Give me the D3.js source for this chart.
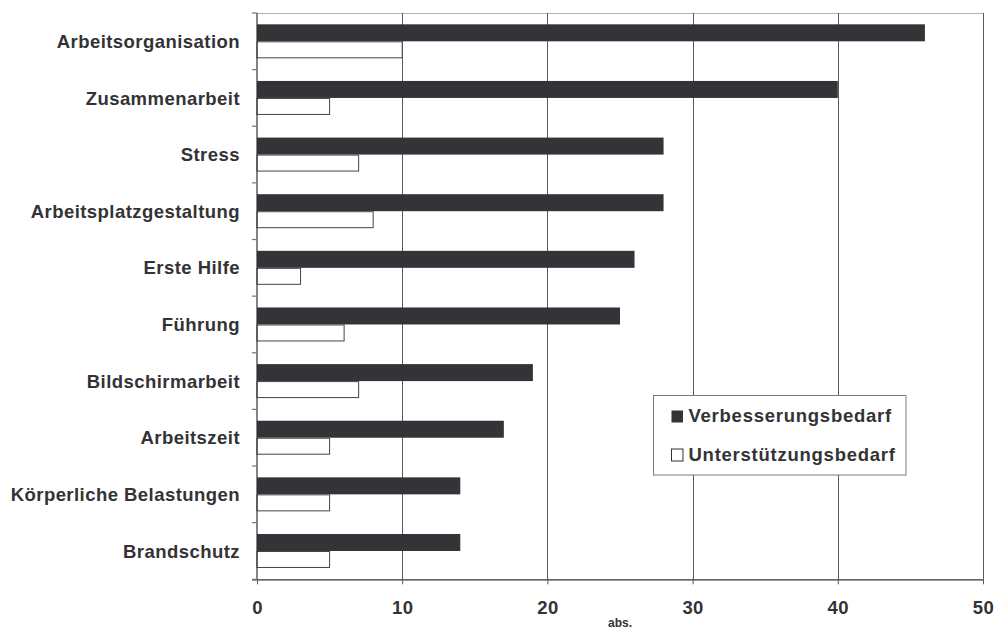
<!DOCTYPE html>
<html>
<head>
<meta charset="utf-8">
<script src="https://cdn.jsdelivr.net/npm/d3@7"></script>
<style>
  html, body { margin: 0; padding: 0; background: #fff; }
  svg { display: block; font-family: "Liberation Sans", Arial, sans-serif; font-weight: bold; }
</style>
</head>
<body>
<svg id="chart" width="994" height="630"></svg>
<script>
const categories = ["Arbeitsorganisation", "Zusammenarbeit", "Stress", "Arbeitsplatzgestaltung", "Erste Hilfe", "Führung", "Bildschirmarbeit", "Arbeitszeit", "Körperliche Belastungen", "Brandschutz"];
const seriesNames = ["Verbesserungsbedarf", "Unterstützungsbedarf"];
const verbesserung = [46, 40, 28, 28, 26, 25, 19, 17, 14, 14];
const unterstuetzung = [10, 5, 7, 8, 3, 6, 7, 5, 5, 5];
const xTicks = [0, 10, 20, 30, 40, 50];
const xAxisTitle = "abs.";

(function () {
const colors = ["#333338", "#ffffff"];
const textColor = "#333336";

const svg = d3.select("#chart");
const pLeft = 257, pRight = 983, pTop = 13, pBottom = 579.3;

const x = d3.scaleLinear().domain([0, 50]).range([pLeft, pRight]);
const y = d3.scaleBand().domain(categories).range([pTop, pBottom]).paddingInner(0.4).paddingOuter(0.2);
const ySub = d3.scaleBand().domain(seriesNames).range([0, y.bandwidth()]);

const data = categories.map((c, i) => ({ cat: c, values: [verbesserung[i], unterstuetzung[i]] }));

// top border
svg.append("line").attr("x1", pLeft).attr("x2", pRight).attr("y1", pTop + 0.5).attr("y2", pTop + 0.5)
  .attr("stroke", "#b4b0ae").attr("stroke-width", 1);

// gridlines
svg.append("g").selectAll("line").data(xTicks.filter(d => d > 0)).join("line")
  .attr("x1", d => Math.round(x(d)) + 0.5).attr("x2", d => Math.round(x(d)) + 0.5)
  .attr("y1", pTop).attr("y2", pBottom)
  .attr("stroke", "#58585a").attr("stroke-width", 1);

// bars
const groups = svg.append("g").selectAll("g").data(data).join("g")
  .attr("transform", d => `translate(0,${y(d.cat)})`);
groups.selectAll("rect").data(d => d.values.map((v, j) => ({ v, name: seriesNames[j], j }))).join("rect")
  .attr("x", x(0))
  .attr("y", d => ySub(d.name) + (d.j === 1 ? 0.5 : 0))
  .attr("width", d => x(d.v) - x(0))
  .attr("height", d => ySub.bandwidth() - (d.j === 1 ? 1 : 0))
  .attr("fill", d => colors[d.j])
  .attr("stroke", d => d.j === 1 ? "#444" : "none")
  .attr("stroke-width", 1);

// x axis
const xAxis = d3.axisBottom(x).tickValues(xTicks).tickSize(5).tickPadding(17);
const gx = svg.append("g").attr("transform", `translate(0,${pBottom})`).call(xAxis);
gx.select(".domain").attr("stroke", "#333").attr("stroke-width", 1.2).attr("d", `M${pLeft - 5},0.5H${pRight}`);
gx.selectAll(".tick line").attr("stroke", "#555");
gx.selectAll(".tick text").attr("fill", textColor).attr("font-size", "18.5px").attr("font-weight", "bold")
  .attr("font-family", "Liberation Sans, Arial, sans-serif").attr("letter-spacing", "0.4px");

// y axis line and category ticks
svg.append("line").attr("x1", pLeft).attr("x2", pLeft).attr("y1", pTop).attr("y2", pBottom)
  .attr("stroke", "#333").attr("stroke-width", 1.2);
const step = y.step();
const boundaries = categories.map(c => y(c) - step * 0.2).concat([y(categories[categories.length - 1]) + y.bandwidth() + step * 0.2]);
svg.append("g").selectAll("line").data(boundaries).join("line")
  .attr("x1", pLeft - 5).attr("x2", pLeft).attr("y1", d => d).attr("y2", d => d)
  .attr("stroke", "#777").attr("stroke-width", 1.2);

// category labels
svg.append("g").selectAll("text").data(categories).join("text")
  .attr("x", 240).attr("y", c => y(c) + y.bandwidth() / 2)
  .attr("dy", "0.36em")
  .attr("text-anchor", "end")
  .attr("fill", textColor).attr("font-size", "18.5px").attr("letter-spacing", "0.45px")
  .text(c => c);

// axis title
svg.append("text").attr("x", x(25)).attr("y", 627).attr("text-anchor", "middle")
  .attr("fill", textColor).attr("font-size", "12px").text(xAxisTitle);

// legend
const lg = svg.append("g");
lg.append("rect").attr("x", 653.5).attr("y", 395.5).attr("width", 252.5).attr("height", 79.5)
  .attr("fill", "#fff").attr("stroke", "#7a7a7a").attr("stroke-width", 1);
const items = lg.selectAll("g").data(seriesNames).join("g")
  .attr("transform", (d, i) => `translate(671,${410 + i * 38.5})`);
items.append("rect").attr("x", 0.5).attr("y", 0.5).attr("width", 11.5).attr("height", 12)
  .attr("fill", (d, i) => colors[i]).attr("stroke", (d, i) => i === 1 ? "#333" : "none");
items.append("text").attr("x", 17.5).attr("y", 12.2)
  .attr("fill", textColor).attr("font-size", "18.5px").attr("letter-spacing", "0.75px")
  .text(d => d);
})();
</script>
</body>
</html>
